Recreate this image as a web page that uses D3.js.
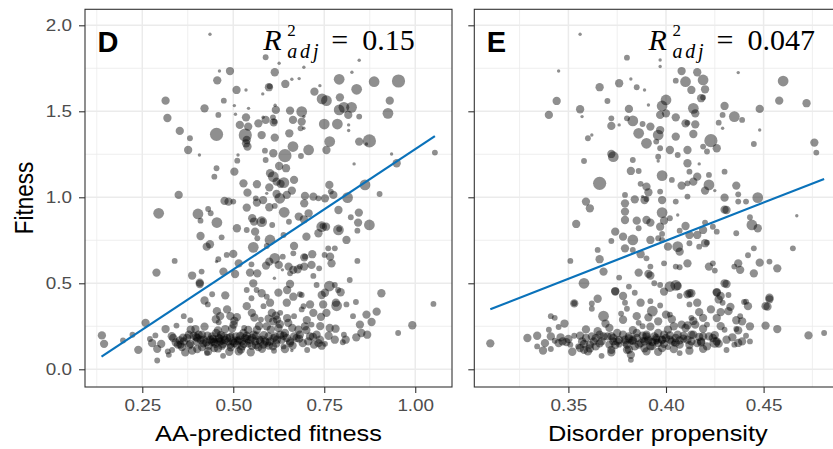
<!DOCTYPE html>
<html>
<head>
<meta charset="utf-8">
<script src="https://cdn.jsdelivr.net/npm/d3@7/dist/d3.min.js"></script>
<style>
  html, body { margin: 0; padding: 0; background: #fff; }
  svg { display: block; }
</style>
</head>
<body>
<svg id="chart" width="833" height="449"></svg>
<script>
// ---- data: [x value, fitness, point size class] ----
const aaPoints = [
  [0.436,1.948,1],[0.589,1.814,2],[0.626,1.779,1],[0.846,1.797,1],[0.462,1.734,1],[0.491,1.734,3],[0.614,1.727,3],[0.694,1.756,1],[0.826,1.727,1],[0.456,1.680,3],
  [0.509,1.624,3],[0.535,1.624,1],[0.598,1.640,3],[0.600,1.645,2],[0.643,1.659,3],[0.661,1.686,1],[0.681,1.690,1],[0.738,1.649,1],[0.791,1.686,4],[0.839,1.628,4],
  [0.887,1.672,4],[0.954,1.676,5],[0.723,1.614,3],[0.581,1.601,1],[0.314,1.562,3],[0.474,1.562,2],[0.503,1.533,1],[0.421,1.517,3],[0.542,1.517,1],[0.615,1.535,1],
  [0.617,1.508,3],[0.656,1.504,3],[0.688,1.498,4],[0.744,1.572,4],[0.756,1.562,4],[0.793,1.581,3],[0.804,1.523,4],[0.791,1.508,4],[0.825,1.523,4],[0.816,1.479,3],
  [0.846,1.469,2],[0.930,1.562,3],[0.925,1.488,4],[0.319,1.461,3],[0.459,1.479,2],[0.506,1.483,1],[0.535,1.465,3],[0.518,1.421,3],[0.541,1.411,3],[0.569,1.430,3],
  [0.589,1.450,3],[0.582,1.465,1],[0.611,1.436,3],[0.613,1.440,2],[0.609,1.465,2],[0.664,1.450,3],[0.688,1.440,3],[0.694,1.469,1],[0.750,1.426,4],[0.786,1.426,4],
  [0.817,1.421,1],[0.817,1.388,1],[0.353,1.386,3],[0.381,1.343,2],[0.454,1.366,5],[0.533,1.362,5],[0.537,1.333,3],[0.539,1.295,3],[0.578,1.362,3],[0.614,1.347,3],
  [0.654,1.372,3],[0.685,1.401,2],[0.694,1.401,1],[0.664,1.295,4],[0.707,1.275,4],[0.765,1.324,4],[0.756,1.275,3],[0.846,1.324,3],[0.866,1.310,1],[0.874,1.328,5],
  [0.376,1.275,3],[0.407,1.246,1],[0.513,1.246,1],[0.511,1.213,2],[0.535,1.314,3],[0.587,1.271,2],[0.610,1.256,3],[0.642,1.242,5],[0.626,1.182,3],[0.589,1.217,2],
  [0.686,1.240,2],[0.935,1.252,1],[0.949,1.198,3],[1.054,1.260,2],[0.832,1.194,1],[0.454,1.169,2],[0.503,1.149,3],[0.448,1.120,2],[0.601,1.140,3],[0.610,1.120,4],
  [0.619,1.091,3],[0.630,1.078,3],[0.639,1.085,4],[0.645,1.169,3],[0.667,1.101,3],[0.528,1.081,3],[0.565,1.076,3],[0.599,1.058,3],[0.661,1.039,3],[0.764,1.072,3],
  [0.768,1.033,2],[0.862,1.072,4],[0.902,1.019,2],[0.350,1.014,3],[0.539,1.027,3],[0.592,1.023,1],[0.619,1.019,3],[0.628,0.994,4],[0.647,1.014,3],[0.697,1.008,3],
  [0.720,1.004,3],[0.734,0.994,2],[0.752,0.994,3],[0.775,1.014,3],[0.814,0.998,4],[0.476,0.979,3],[0.487,0.975,3],[0.500,0.975,2],[0.562,0.994,2],[0.565,0.969,3],
  [0.582,0.984,3],[0.599,0.942,3],[0.614,0.950,2],[0.695,0.965,3],[0.295,0.907,4],[0.403,0.903,4],[0.431,0.932,2],[0.438,0.907,2],[0.537,0.940,3],[0.552,0.878,3],
  [0.557,0.859,3],[0.578,0.858,4],[0.580,0.862,2],[0.640,0.913,4],[0.707,0.907,3],[0.789,0.926,3],[0.845,0.911,3],[0.455,0.853,4],[0.410,0.864,2],[0.510,0.820,3],
  [0.537,0.810,2],[0.560,0.800,3],[0.607,0.839,2],[0.653,0.858,2],[0.680,0.888,3],[0.694,0.872,3],[0.743,0.829,4],[0.745,0.833,2],[0.755,0.829,3],[0.789,0.810,4],
  [0.791,0.815,2],[0.823,0.884,2],[0.843,0.853,3],[0.874,0.839,4],[0.841,0.806,2],[0.410,0.775,3],[0.468,0.767,2],[0.566,0.762,2],[0.601,0.752,4],[0.638,0.781,2],
  [0.667,0.717,3],[0.701,0.771,3],[0.734,0.791,3],[0.811,0.752,3],[0.427,0.713,3],[0.436,0.727,3],[0.555,0.709,4],[0.592,0.717,2],[0.761,0.703,2],[0.779,0.703,2],
  [0.500,0.671,3],[0.482,0.665,2],[0.459,0.640,2],[0.454,0.626,1],[0.614,0.645,4],[0.636,0.655,2],[0.665,0.674,2],[0.695,0.651,3],[0.697,0.655,2],[0.717,0.669,3],
  [0.751,0.665,2],[0.766,0.655,3],[0.770,0.616,3],[0.841,0.630,2],[0.339,0.630,2],[0.515,0.616,3],[0.550,0.610,2],[0.590,0.603,3],[0.599,0.626,3],[0.625,0.607,3],
  [0.635,0.578,1],[0.652,0.597,3],[0.665,0.578,3],[0.683,0.597,2],[0.695,0.597,3],[0.715,0.607,3],[0.387,0.545,3],[0.289,0.562,3],[0.413,0.568,2],[0.473,0.568,3],
  [0.505,0.554,3],[0.546,0.562,3],[0.566,0.558,3],[0.613,0.529,1],[0.656,0.558,2],[0.677,0.581,3],[0.720,0.543,2],[0.736,0.587,2],[0.820,0.519,2],[0.408,0.496,3],
  [0.555,0.500,3],[0.564,0.461,2],[0.656,0.496,3],[0.764,0.484,4],[0.729,0.490,2],[0.779,0.490,2],[0.442,0.436,2],[0.537,0.461,2],[0.550,0.413,2],[0.578,0.442,3],
  [0.592,0.422,2],[0.624,0.446,3],[0.648,0.461,3],[0.665,0.422,3],[0.688,0.432,2],[0.743,0.432,3],[0.795,0.448,3],[0.907,0.442,3],[1.050,0.380,2],
  [0.139,0.197,3],[0.145,0.148,3],[0.197,0.168,2],[0.223,0.201,2],[0.239,0.113,3],[0.259,0.270,3],[0.271,0.176,2],[0.277,0.152,3],[0.286,0.197,2],[0.291,0.119,3],
  [0.291,0.051,2],[0.314,0.234,3],[0.320,0.104,2],[0.323,0.084,2],[0.335,0.182,3],[0.344,0.254,2],[0.355,0.143,3],[0.359,0.129,3],[0.364,0.162,3],[0.364,0.309,2],
  [0.378,0.201,3],[0.382,0.285,2],[0.387,0.109,3],[0.396,0.234,3],[0.401,0.182,3],[0.405,0.201,3],[0.408,0.504,3],[0.414,0.129,3],[0.419,0.172,3],[0.421,0.400,3],
  [0.430,0.377,2],[0.428,0.094,2],[0.437,0.172,3],[0.442,0.191,3],[0.451,0.148,3],[0.453,0.211,3],[0.460,0.182,3],[0.455,0.338,3],[0.464,0.309,3],[0.460,0.273,2],
  [0.472,0.078,2],[0.478,0.430,3],[0.483,0.348,3],[0.478,0.234,3],[0.487,0.162,3],[0.492,0.309,3],[0.501,0.260,3],[0.508,0.191,3],[0.510,0.303,3],[0.515,0.104,3],
  [0.524,0.162,3],[0.528,0.211,3],[0.530,0.240,2],[0.537,0.367,3],[0.542,0.143,2],[0.551,0.328,3],[0.556,0.201,3],[0.560,0.162,3],[0.565,0.230,3],[0.569,0.129,3],
  [0.576,0.289,2],[0.583,0.367,2],[0.588,0.162,3],[0.592,0.250,3],[0.601,0.387,3],[0.606,0.328,3],[0.610,0.279,3],[0.615,0.191,3],[0.620,0.289,3],[0.624,0.240,3],
  [0.629,0.328,2],[0.633,0.172,3],[0.638,0.133,2],[0.642,0.211,3],[0.647,0.387,3],[0.651,0.270,3],[0.656,0.152,3],[0.661,0.109,1],[0.667,0.309,2],[0.674,0.182,3],
  [0.679,0.230,3],[0.683,0.436,2],[0.688,0.348,2],[0.693,0.367,2],[0.697,0.250,3],[0.706,0.162,3],[0.711,0.377,3],[0.715,0.260,2],[0.720,0.328,3],[0.729,0.201,3],
  [0.734,0.152,3],[0.747,0.377,3],[0.752,0.445,3],[0.756,0.328,3],[0.765,0.240,3],[0.779,0.172,3],[0.782,0.387,3],[0.784,0.369,4],[0.788,0.461,2],[0.804,0.201,2],
  [0.809,0.172,3],[0.811,0.377,2],[0.829,0.309,2],[0.837,0.391,2],[0.848,0.260,3],[0.852,0.211,3],[0.866,0.318,3],[0.868,0.201,3],[0.880,0.275,3],[0.894,0.335,3],
  [0.953,0.211,2],[0.992,0.256,3],
  [0.348,0.143,3],[0.353,0.168,3],[0.373,0.182,3],[0.382,0.148,3],[0.391,0.195,3],[0.399,0.162,3],[0.410,0.172,3],[0.414,0.201,3],[0.426,0.156,3],[0.432,0.137,3],
  [0.444,0.176,3],[0.448,0.123,3],[0.463,0.162,3],[0.469,0.137,3],[0.474,0.191,3],[0.483,0.182,3],[0.492,0.143,3],[0.499,0.162,3],[0.510,0.143,3],[0.517,0.172,3],
  [0.524,0.133,3],[0.533,0.182,3],[0.537,0.195,3],[0.547,0.172,3],[0.551,0.137,3],[0.563,0.195,3],[0.574,0.162,3],[0.583,0.143,3],[0.597,0.191,3],[0.601,0.162,3],
  [0.609,0.133,3],[0.620,0.172,3],[0.629,0.201,3],[0.647,0.182,3],[0.656,0.162,3],[0.667,0.191,3],[0.683,0.201,3],[0.711,0.191,3],[0.722,0.143,3],[0.738,0.172,3],
  [0.743,0.137,3],[0.470,0.160,2],[0.505,0.175,2],[0.540,0.160,2],[0.455,0.165,2],[0.495,0.200,2],[0.580,0.180,2],
  [0.332,0.112,2],[0.368,0.098,3],[0.401,0.118,3],[0.431,0.105,3],[0.458,0.121,3],[0.489,0.102,3],[0.521,0.115,3],[0.548,0.099,3],[0.579,0.119,3],[0.612,0.108,2],
  [0.642,0.117,3],[0.703,0.112,2],[0.302,0.148,3],[0.342,0.156,3],[0.379,0.139,3],[0.418,0.151,3],[0.447,0.158,3],[0.471,0.146,3],[0.503,0.153,3],[0.529,0.148,3],
  [0.562,0.141,3],[0.593,0.155,3],[0.618,0.149,3],[0.663,0.138,3],[0.691,0.152,3],[0.752,0.148,2],[0.801,0.157,2],[0.331,0.192,3],[0.362,0.184,3],[0.398,0.188,3],
  [0.429,0.196,3],[0.462,0.179,3],[0.491,0.186,3],[0.519,0.194,3],[0.552,0.183,3],[0.584,0.199,3],[0.611,0.181,3],[0.638,0.195,3],[0.681,0.178,3],[0.719,0.189,3],
  [0.762,0.195,3],[0.838,0.186,3],[0.383,0.231,3],[0.421,0.248,3],[0.458,0.226,3],[0.497,0.238,3],[0.541,0.229,3],[0.571,0.252,3],[0.603,0.231,3],[0.628,0.262,3],
  [0.662,0.241,3],[0.701,0.228,3],[0.739,0.251,3],[0.781,0.236,3],[0.452,0.291,3],[0.503,0.282,3],[0.558,0.301,3],[0.597,0.295,3],[0.617,0.312,3],[0.648,0.298,3],
  [0.702,0.286,3],[0.741,0.305,3],[0.441,0.161,3],[0.477,0.171,3],[0.512,0.165,3],[0.538,0.176,3],[0.493,0.128,3],[0.466,0.199,3],[0.572,0.171,3],[0.598,0.138,3]
];

const disorderPoints = [
  [0.310,0.151,3],[0.356,1.948,1],[0.380,1.812,2],[0.397,1.798,1],[0.397,1.760,1],[0.345,1.734,1],[0.376,1.663,3],[0.382,1.688,1],[0.366,1.640,3],[0.385,1.640,2],
  [0.389,1.624,1],[0.408,1.734,3],[0.405,1.678,2],[0.410,1.672,4],[0.416,1.727,3],[0.419,1.682,4],[0.413,1.624,3],[0.420,1.628,3],[0.418,1.576,3],[0.419,1.580,2],
  [0.400,1.566,4],[0.437,1.725,1],[0.460,1.676,4],[0.458,1.562,3],[0.472,1.547,3],[0.344,1.560,3],[0.340,1.479,3],[0.357,1.469,1],[0.356,1.512,3],[0.370,1.560,2],
  [0.381,1.514,3],[0.380,1.459,2],[0.372,1.459,2],[0.372,1.415,3],[0.383,1.444,4],[0.376,1.421,1],[0.391,1.537,1],[0.388,1.426,2],[0.392,1.411,3],[0.397,1.479,3],
  [0.398,1.531,4],[0.400,1.488,3],[0.405,1.465,3],[0.410,1.430,3],[0.411,1.433,2],[0.415,1.424,3],[0.414,1.517,4],[0.415,1.488,3],[0.396,1.362,4],[0.397,1.391,3],
  [0.386,1.372,4],[0.390,1.314,4],[0.395,1.324,2],[0.405,1.353,3],[0.414,1.368,3],[0.423,1.329,5],[0.426,1.285,3],[0.419,1.295,2],[0.421,1.266,2],[0.411,1.275,3],
  [0.402,1.275,3],[0.397,1.285,2],[0.406,1.246,2],[0.430,1.531,3],[0.429,1.479,2],[0.427,1.434,2],[0.429,1.401,1],[0.435,1.469,4],[0.439,1.450,2],[0.448,1.514,3],
  [0.448,1.391,1],[0.445,1.310,2],[0.476,1.318,3],[0.477,1.260,2],[0.360,1.343,2],[0.362,1.362,1],[0.358,1.211,2],[0.372,1.252,3],[0.373,1.236,4],[0.383,1.217,2],
  [0.386,1.153,2],[0.382,1.153,3],[0.396,1.236,2],[0.396,1.211,1],[0.411,1.198,3],[0.417,1.194,1],[0.412,1.149,2],[0.398,1.126,4],[0.403,1.101,2],[0.416,1.120,3],
  [0.422,1.130,2],[0.430,1.149,2],[0.366,1.081,5],[0.387,1.078,2],[0.390,1.062,3],[0.391,1.029,3],[0.384,0.988,3],[0.389,0.984,3],[0.390,0.990,2],[0.388,1.004,1],
  [0.379,1.014,2],[0.379,0.965,3],[0.408,1.068,3],[0.411,1.081,2],[0.414,1.091,3],[0.422,1.072,4],[0.420,1.039,3],[0.425,1.039,1],[0.397,1.033,2],[0.398,0.984,3],
  [0.405,0.975,2],[0.411,1.004,2],[0.430,0.998,3],[0.436,1.068,3],[0.437,1.017,2],[0.437,0.975,2],[0.441,0.975,2],[0.447,0.998,4],[0.359,0.975,3],[0.361,0.936,3],
  [0.354,0.845,3],[0.379,0.917,3],[0.379,0.868,3],[0.385,0.864,3],[0.386,0.820,2],[0.390,0.868,3],[0.392,0.853,3],[0.398,0.911,4],[0.399,0.864,3],[0.402,0.878,2],
  [0.406,0.897,1],[0.397,0.829,3],[0.398,0.787,2],[0.407,0.806,2],[0.410,0.833,3],[0.420,0.853,2],[0.419,0.810,3],[0.412,0.781,3],[0.416,0.781,3],[0.424,0.829,2],
  [0.426,0.800,2],[0.430,0.928,3],[0.431,0.926,3],[0.443,0.884,2],[0.444,0.839,4],[0.447,0.820,3],[0.436,0.791,2],[0.467,0.893,1],[0.465,0.703,2],[0.374,0.800,3],
  [0.378,0.771,3],[0.372,0.746,2],[0.383,0.752,4],[0.392,0.752,3],[0.396,0.762,2],[0.379,0.703,3],[0.383,0.694,2],[0.387,0.669,3],[0.390,0.645,2],[0.392,0.597,2],
  [0.398,0.752,2],[0.401,0.713,3],[0.406,0.713,4],[0.407,0.684,3],[0.412,0.733,2],[0.420,0.733,3],[0.421,0.736,2],[0.417,0.713,2],[0.365,0.694,2],[0.366,0.640,3],
  [0.368,0.568,3],[0.376,0.533,2],[0.386,0.562,3],[0.392,0.545,3],[0.394,0.500,2],[0.399,0.616,2],[0.407,0.593,2],[0.411,0.616,3],[0.405,0.597,2],[0.422,0.597,3],
  [0.424,0.616,2],[0.425,0.574,2],[0.435,0.597,2],[0.437,0.616,3],[0.438,0.578,3],[0.442,0.663,2],[0.445,0.703,2],[0.448,0.620,3],[0.453,0.626,2],[0.445,0.558,3],
  [0.457,0.587,3],[0.351,0.630,2],[0.358,0.500,4],[0.353,0.384,2],[0.374,0.452,3],[0.381,0.481,2],[0.397,0.490,2],[0.399,0.452,3],[0.402,0.481,4],[0.406,0.484,3],
  [0.412,0.442,3],[0.413,0.442,3],[0.426,0.446,3],[0.428,0.426,3],[0.432,0.432,2],[0.431,0.496,3],[0.441,0.393,2],[0.452,0.364,3],[0.453,0.407,3],
  [0.473,0.197,3],[0.481,0.211,2],[0.329,0.182,3],[0.334,0.195,3],[0.337,0.109,3],[0.340,0.230,2],[0.341,0.309,2],[0.348,0.266,3],[0.353,0.383,3],[0.358,0.113,3],
  [0.365,0.410,3],[0.368,0.309,4],[0.367,0.078,2],[0.374,0.455,3],[0.378,0.426,3],[0.382,0.084,3],[0.382,0.055,2],[0.390,0.104,3],[0.391,0.555,3],[0.393,0.338,4],
  [0.405,0.488,4],[0.407,0.094,2],[0.425,0.156,4],[0.426,0.449,3],[0.430,0.500,3],[0.440,0.391,2],[0.451,0.367,3],[0.451,0.254,3],[0.453,0.416,3],[0.457,0.234,3],
  [0.334,0.133,2],[0.343,0.299,2],[0.345,0.246,2],[0.341,0.191,3],[0.343,0.166,2],[0.345,0.152,3],[0.347,0.162,3],[0.350,0.176,3],[0.351,0.143,2],[0.353,0.195,2],
  [0.355,0.133,2],[0.356,0.123,3],[0.360,0.104,3],[0.362,0.191,3],[0.363,0.162,3],[0.362,0.383,2],[0.362,0.352,2],[0.365,0.221,3],[0.366,0.201,3],[0.369,0.266,3],
  [0.370,0.191,3],[0.372,0.113,3],[0.373,0.162,3],[0.375,0.211,3],[0.376,0.143,2],[0.377,0.324,2],[0.379,0.387,2],[0.380,0.352,2],[0.379,0.172,3],[0.380,0.113,3],
  [0.381,0.191,3],[0.384,0.445,2],[0.385,0.211,3],[0.385,0.309,3],[0.386,0.270,2],[0.387,0.387,3],[0.388,0.250,2],[0.389,0.162,3],[0.390,0.191,3],[0.392,0.396,2],
  [0.395,0.172,3],[0.396,0.279,3],[0.396,0.211,3],[0.397,0.371,2],[0.398,0.172,3],[0.399,0.201,3],[0.400,0.318,3],[0.401,0.129,2],[0.402,0.172,3],[0.402,0.318,2],
  [0.404,0.250,3],[0.405,0.182,3],[0.407,0.426,2],[0.408,0.260,3],[0.409,0.195,3],[0.410,0.240,3],[0.411,0.436,3],[0.412,0.377,2],[0.413,0.162,3],[0.413,0.299,2],
  [0.414,0.201,3],[0.415,0.260,3],[0.416,0.387,3],[0.417,0.332,3],[0.418,0.162,3],[0.419,0.299,3],[0.421,0.260,2],[0.422,0.191,3],[0.423,0.348,3],[0.427,0.406,3],
  [0.428,0.332,3],[0.429,0.387,2],[0.430,0.230,2],[0.431,0.172,3],[0.432,0.338,3],[0.433,0.363,3],[0.435,0.143,2],[0.436,0.234,2],[0.438,0.309,2],[0.439,0.279,3],
  [0.442,0.367,3],[0.443,0.162,2],[0.439,0.162,3],[0.443,0.250,3],
  [0.357,0.162,3],[0.359,0.182,3],[0.361,0.143,3],[0.364,0.133,3],[0.367,0.162,3],[0.368,0.191,3],[0.371,0.143,3],[0.373,0.182,3],[0.375,0.162,3],[0.378,0.201,3],
  [0.380,0.143,3],[0.383,0.172,3],[0.384,0.133,3],[0.385,0.182,3],[0.387,0.152,3],[0.390,0.201,3],[0.391,0.172,3],[0.392,0.133,3],[0.394,0.191,3],[0.396,0.152,3],
  [0.398,0.123,3],[0.400,0.182,3],[0.403,0.162,3],[0.406,0.201,3],[0.407,0.143,3],[0.411,0.172,3],[0.413,0.201,3],[0.416,0.152,3],[0.419,0.191,3],[0.421,0.133,3],
  [0.424,0.182,3],[0.426,0.162,3],[0.388,0.170,2],[0.395,0.160,2],[0.382,0.160,2],[0.404,0.150,2],
  [0.341,0.118,2],[0.352,0.102,3],[0.361,0.121,3],[0.372,0.098,3],[0.381,0.115,3],[0.389,0.122,3],[0.396,0.101,3],[0.404,0.117,3],[0.412,0.108,3],[0.419,0.119,3],
  [0.431,0.112,2],[0.338,0.152,3],[0.349,0.158,3],[0.358,0.147,3],[0.366,0.151,3],[0.374,0.141,3],[0.379,0.157,3],[0.386,0.143,3],[0.393,0.158,3],[0.399,0.148,3],
  [0.405,0.155,3],[0.412,0.141,3],[0.418,0.156,3],[0.427,0.149,3],[0.437,0.153,3],[0.346,0.186,3],[0.356,0.196,3],[0.364,0.181,3],[0.372,0.193,3],[0.381,0.179,3],
  [0.388,0.196,3],[0.395,0.182,3],[0.402,0.197,3],[0.409,0.178,3],[0.417,0.189,3],[0.425,0.199,3],[0.434,0.186,3],[0.441,0.195,2],[0.359,0.232,3],[0.371,0.241,3],
  [0.383,0.228,3],[0.392,0.248,3],[0.401,0.231,3],[0.411,0.255,3],[0.419,0.236,3],[0.428,0.251,3],[0.437,0.226,3],[0.378,0.288,3],[0.391,0.302,3],[0.403,0.291,3],
  [0.414,0.281,3],[0.426,0.298,3],[0.436,0.285,3],[0.383,0.165,3],[0.391,0.163,3],[0.398,0.171,3],[0.376,0.171,3],[0.407,0.168,3],[0.393,0.135,3]
];

// linear fits: [intercept, slope] and the x extent they span
const aaFit = [-0.120, 1.400];
const aaFitRange = [0.138, 1.054];
const disorderFit = [-1.025, 4.432];
const disorderFitRange = [0.310, 0.481];

// axes
const aaTicks = [0.25, 0.50, 0.75, 1.00];
const disorderTicks = [0.35, 0.40, 0.45];
const fitnessTicks = [0.0, 0.5, 1.0, 1.5, 2.0];
const aaDomain = [0.0926, 1.101];
const disorderDomain = [0.3018, 0.4898];
const fitnessDomain = [-0.103, 2.093];

// labels
const panelLetters = ["D", "E"];
const r2Values = ["0.15", "0.047"];
const xTitles = ["AA-predicted fitness", "Disorder propensity"];
const yTitle = "Fitness";

// ---- drawing ----
const SANS = "'Liberation Sans', Arial, Helvetica, sans-serif";
const SERIF = "'Liberation Serif', 'Times New Roman', serif";
const STRETCH = 1.18;
const svg = d3.select("#chart");
const panelTop = 9.3, panelBottom = 387;
const y = d3.scaleLinear().domain(fitnessDomain).range([panelBottom, panelTop]);
const radius = d3.scaleLinear().domain([1, 5]).range([1.7, 6.6]);

function minorOf(ticks, domain) {
  const step = ticks[1] - ticks[0];
  return d3.range(ticks[0] - step / 2, ticks[ticks.length - 1] + step, step)
    .filter(v => v > domain[0] && v < domain[1]);
}

function drawPanel(cfg) {
  const { id, left, right, domain, ticks, points, fit, fitRange, letter, r2, xTitle, yLabels, r2X } = cfg;
  const x = d3.scaleLinear().domain(domain).range([left, right]);
  const g = svg.append("g");
  const h = panelBottom - panelTop;

  svg.append("clipPath").attr("id", "clip-" + id)
    .append("rect").attr("x", left).attr("y", panelTop).attr("width", right - left).attr("height", h);

  const pg = g.append("g").attr("clip-path", `url(#clip-${id})`);
  pg.append("rect").attr("x", left).attr("y", panelTop).attr("width", right - left).attr("height", h).attr("fill", "#fff");

  // grid
  const grid = pg.append("g").attr("stroke", "#ebebeb").attr("fill", "none");
  grid.append("g").selectAll("line").data(minorOf(ticks, domain)).join("line")
    .attr("x1", d => x(d)).attr("x2", d => x(d)).attr("y1", panelTop).attr("y2", panelBottom).attr("stroke-width", 0.8);
  grid.append("g").selectAll("line").data(minorOf(fitnessTicks, fitnessDomain)).join("line")
    .attr("x1", left).attr("x2", right).attr("y1", d => y(d)).attr("y2", d => y(d)).attr("stroke-width", 0.8);
  grid.append("g").selectAll("line").data(ticks).join("line")
    .attr("x1", d => x(d)).attr("x2", d => x(d)).attr("y1", panelTop).attr("y2", panelBottom).attr("stroke-width", 1.5);
  grid.append("g").selectAll("line").data(fitnessTicks).join("line")
    .attr("x1", left).attr("x2", right).attr("y1", d => y(d)).attr("y2", d => y(d)).attr("stroke-width", 1.5);

  // points
  pg.append("g").selectAll("circle").data(points).join("circle")
    .attr("cx", d => x(d[0])).attr("cy", d => y(d[1])).attr("r", d => radius(d[2]))
    .attr("fill", "#000").attr("fill-opacity", 0.44);

  // fitted line
  const line = d3.line().x(d => x(d)).y(d => y(fit[0] + fit[1] * d));
  pg.append("path").datum(fitRange).attr("d", line)
    .attr("fill", "none").attr("stroke", "#0a72ba").attr("stroke-width", 2.2);

  // panel letter
  g.append("text").attr("x", left + 12.5).attr("y", 51.7).text(letter)
    .attr("font-family", SANS).attr("font-weight", "bold").attr("font-size", 29).attr("fill", "#000");

  // adjusted R squared, one text element with positioned parts
  const rt = g.append("text").attr("x", r2X).attr("y", 49.5)
    .attr("font-family", SERIF).attr("font-size", 30).attr("fill", "#000");
  rt.append("tspan").attr("font-style", "italic").text("R");
  rt.append("tspan").attr("x", r2X + 24).attr("y", 35.8).attr("font-size", 17).text("2");
  rt.append("tspan").attr("x", r2X + 24).attr("y", 57.5).attr("font-size", 20).attr("font-style", "italic")
    .attr("letter-spacing", 2.8).text("adj");
  rt.append("tspan").attr("x", r2X + 68).attr("y", 49.5).text("=");
  rt.append("tspan").attr("x", r2X + 99).attr("y", 49.5).text(r2);

  // x axis
  const xa = g.append("g").attr("transform", `translate(0,${panelBottom})`)
    .call(d3.axisBottom(x).tickValues(ticks).tickFormat(d3.format(".2f")).tickSize(6).tickPadding(7));
  xa.select(".domain").remove();
  xa.selectAll("line").attr("stroke", "#333").attr("stroke-width", 1.1);
  xa.selectAll("text").attr("fill", "#4d4d4d").attr("font-size", 16).attr("font-family", SANS)
    .attr("transform", `scale(${STRETCH},1)`);

  // y axis
  const ya = g.append("g").attr("transform", `translate(${left},0)`)
    .call(d3.axisLeft(y).tickValues(fitnessTicks).tickFormat(yLabels ? d3.format(".1f") : () => "").tickSize(6).tickPadding(7));
  ya.select(".domain").remove();
  ya.selectAll("line").attr("stroke", "#333").attr("stroke-width", 1.1);
  ya.selectAll("text").attr("fill", "#4d4d4d").attr("font-size", 16).attr("font-family", SANS)
    .attr("x", -13 / STRETCH).attr("transform", `scale(${STRETCH},1)`);

  // border
  g.append("rect").attr("x", left).attr("y", panelTop).attr("width", right - left).attr("height", h)
    .attr("fill", "none").attr("stroke", "#333").attr("stroke-width", 1.1);

  // x title
  g.append("text").attr("transform", `translate(${(left + right) / 2},441) scale(${STRETCH},1)`)
    .attr("text-anchor", "middle").attr("font-family", SANS).attr("font-size", 21.5).attr("fill", "#000").text(xTitle);
}

drawPanel({ id: "aa", left: 85, right: 452, domain: aaDomain, ticks: aaTicks, points: aaPoints,
  fit: aaFit, fitRange: aaFitRange, letter: panelLetters[0], r2: r2Values[0], xTitle: xTitles[0], yLabels: true, r2X: 263.3 });
drawPanel({ id: "dis", left: 474.3, right: 841.3, domain: disorderDomain, ticks: disorderTicks, points: disorderPoints,
  fit: disorderFit, fitRange: disorderFitRange, letter: panelLetters[1], r2: r2Values[1], xTitle: xTitles[1], yLabels: false, r2X: 648.5 });

// y title
svg.append("text").attr("transform", `translate(33,198) rotate(-90) scale(1,${STRETCH})`)
  .attr("text-anchor", "middle").attr("font-family", SANS).attr("font-size", 22.5).attr("fill", "#000").text(yTitle);
</script>
</body>
</html>
